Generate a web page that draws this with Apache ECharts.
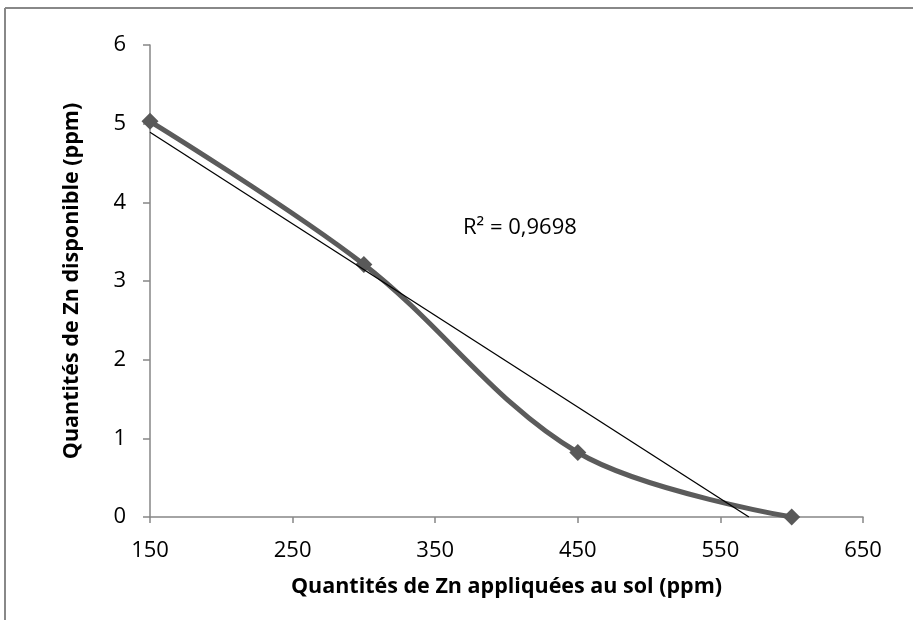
<!DOCTYPE html>
<html>
<head>
<meta charset="utf-8">
<script src="https://cdn.jsdelivr.net/npm/echarts@6/dist/echarts.min.js"></script>
<style>html,body{margin:0;padding:0;background:#fff}#c{width:913px;height:620px}</style>
</head>
<body>
<div id="c"></div>
<script>
const xValues = [150, 300, 450, 600];
const yValues = [5.03, 3.21, 0.82, 0.0];
const trendX = [150, 570];
const trendY = [4.89, 0];
const xTicks = [150, 250, 350, 450, 550, 650];
const yTicks = [0, 1, 2, 3, 4, 5, 6];
const r2Label = 'R² = 0,9698';
const xTitle = 'Quantités de Zn appliquées au sol (ppm)';
const yTitle = 'Quantités de Zn disponible (ppm)';

const font = 'Open Sans';
const chart = echarts.init(document.getElementById('c'), null, {renderer: 'canvas'});
chart.setOption({
  animation: false,
  backgroundColor: '#fff',
  grid: {left: 150, right: 50, top: 45, bottom: 103, containLabel: false},
  xAxis: {
    type: 'value', min: 150, max: 650, interval: 100,
    name: xTitle, nameLocation: 'middle', nameGap: 59,
    nameTextStyle: {fontFamily: font, fontWeight: 'bold', fontSize: 21.5, color: '#000'},
    axisLine: {show: true, onZero: false, lineStyle: {color: '#868686', width: 1.5}},
    axisTick: {show: true, length: 6, lineStyle: {color: '#868686', width: 1.5}},
    axisLabel: {fontFamily: font, fontSize: 22, color: '#000', margin: 23},
    splitLine: {show: false}
  },
  yAxis: {
    type: 'value', min: 0, max: 6, interval: 1,
    name: yTitle, nameLocation: 'middle', nameGap: 67, nameRotate: 90,
    nameTextStyle: {fontFamily: font, fontWeight: 'bold', fontSize: 21.5, color: '#000'},
    axisLine: {show: true, lineStyle: {color: '#868686', width: 1.5}},
    axisTick: {show: true, length: 7, lineStyle: {color: '#868686', width: 1.5}},
    axisLabel: {fontFamily: font, fontSize: 22, color: '#000', margin: 24},
    splitLine: {show: false}
  },
  series: [
    {
      type: 'line', smooth: 0.35,
      data: xValues.map((x, i) => [x, yValues[i]]),
      symbol: 'diamond', symbolSize: 17,
      itemStyle: {color: '#595959'},
      lineStyle: {color: '#5b5b5b', width: 5},
      z: 2
    },
    {
      type: 'line',
      data: trendX.map((x, i) => [x, trendY[i]]),
      symbol: 'none',
      lineStyle: {color: '#000', width: 1.3},
      z: 3
    }
  ],
  graphic: [
    {type: 'line', shape: {x1: 5, y1: 8, x2: 5, y2: 620}, style: {stroke: '#888', lineWidth: 2}},
    {type: 'line', shape: {x1: 5, y1: 8, x2: 913, y2: 8}, style: {stroke: '#888', lineWidth: 2}},
    {type: 'text', left: 463, top: 217, style: {text: r2Label, fontFamily: font, fontSize: 22, fill: '#000'}}
  ]
});
</script>
</body>
</html>
